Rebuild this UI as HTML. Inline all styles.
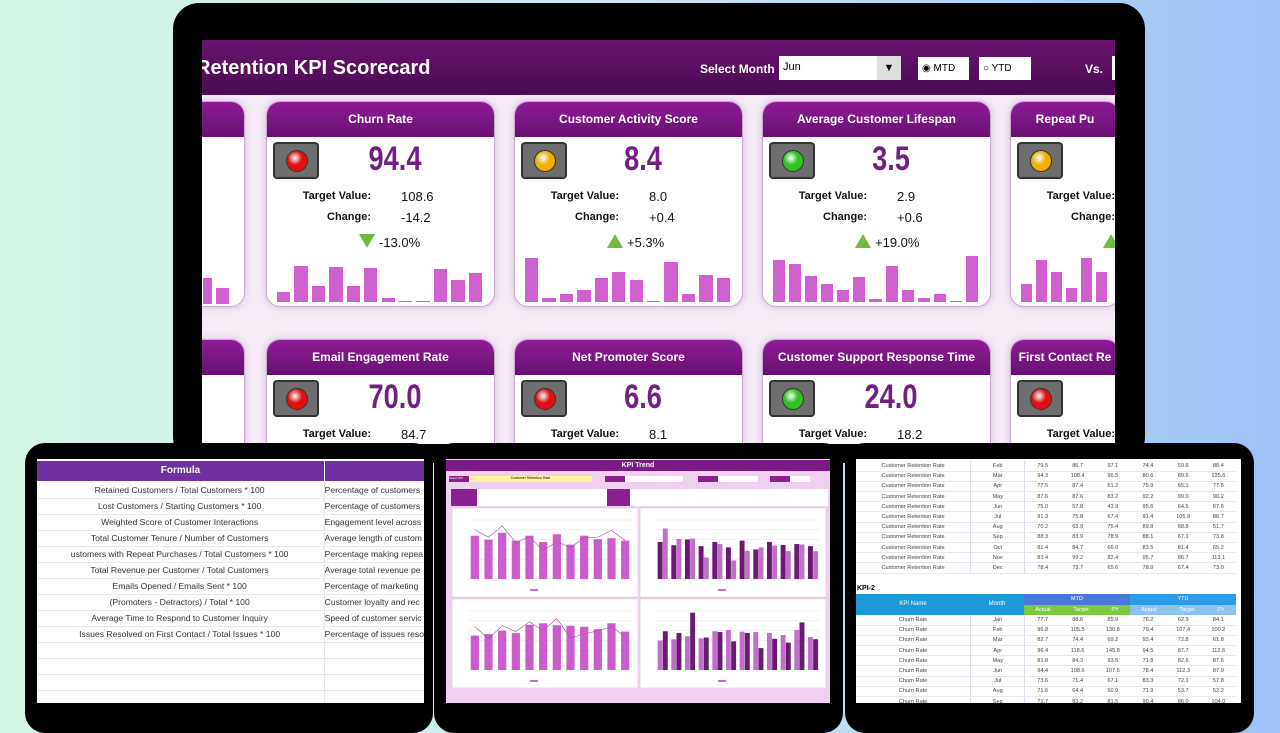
<!DOCTYPE html>
<html><head><meta charset="utf-8">
<style>
*{margin:0;padding:0;box-sizing:border-box}
body{width:1280px;height:720px;overflow:hidden;position:relative;font-family:"Liberation Sans",sans-serif;background:linear-gradient(90deg,#d6f6e6 0%,#c8eaf0 50%,#9cc2f8 100%)}
.a{position:absolute}
.frame{background:#000;border-radius:26px}
.hdr{background:linear-gradient(180deg,#6a1470,#4a0a52);}
.card{position:absolute;background:#fff;border-radius:14px;border:1px solid #c9a8d0;box-shadow:0 0 8px #d8b8e0;overflow:hidden}
.card .t{position:absolute;left:0;right:0;top:0;height:35px;background:linear-gradient(180deg,#8c1c96,#6a1072);color:#fff;font-weight:bold;font-size:12px;text-align:center;line-height:35px;white-space:nowrap;font-family:"Liberation Sans Narrow","Liberation Sans",sans-serif}
.light{position:absolute;width:46px;height:37px;background:#6e6e6e;border:2px solid #333;border-radius:4px}
.light i{position:absolute;left:11px;top:6px;width:22px;height:22px;border-radius:50%;border:1px solid #333}
.big{position:absolute;font-size:34px;font-weight:bold;color:#702080;font-family:"Liberation Sans Narrow","Liberation Sans",sans-serif;transform:scaleX(.8)}
.lab{position:absolute;font-size:11px;font-weight:bold;color:#111;white-space:nowrap;text-align:right}
.val{position:absolute;font-size:13px;color:#111;white-space:nowrap}
.bar{position:absolute;background:#d060d0;bottom:4px}
table{border-collapse:collapse}
.lt td{height:16px;font-size:8.6px;color:#333;border-bottom:1px solid #e6e6e6;white-space:nowrap;overflow:hidden}
.rt td{font-size:5.6px;color:#444;text-align:center;border-bottom:1px solid #e2e8ee;height:10.2px;white-space:nowrap}
</style></head><body>

<!-- main laptop -->
<div class="a frame" style="left:173px;top:3px;width:972px;height:460px"></div>
<div class="a" style="left:202px;top:40px;width:913px;height:404px;background:#f5ecf6;overflow:hidden">
  <div class="a hdr" style="left:0;top:0;width:913px;height:55px"></div>
  <div class="a" style="left:-6px;top:17px;color:#fff;font-size:20px;font-weight:bold">Retention KPI Scorecard</div>
  <div class="a" style="left:498px;top:22px;color:#fff;font-size:12px;font-weight:bold">Select Month</div>
  <div class="a" style="left:577px;top:16px;width:98px;height:24px;background:#fff;font-size:11px;padding:5px 4px">Jun</div>
  <div class="a" style="left:675px;top:16px;width:24px;height:24px;background:#ddd;font-size:11px;text-align:center;line-height:24px">▼</div>
  <div class="a" style="left:716px;top:17px;width:51px;height:23px;background:#fff;font-size:10px;padding:6px 4px">◉ MTD</div>
  <div class="a" style="left:777px;top:17px;width:52px;height:23px;background:#fff;font-size:10px;padding:6px 4px">○ YTD</div>
  <div class="a" style="left:883px;top:22px;color:#fff;font-size:12px;font-weight:bold">Vs.</div>
  <div class="a" style="left:910px;top:16px;width:6px;height:24px;background:#fff"></div>
  <div class="a" style="left:-202px;top:-40px;width:1280px;height:720px" id="cards"></div>
</div>

<!-- left tablet -->
<div class="a frame" style="left:25px;top:443px;width:408px;height:290px;border-radius:20px"></div>
<div class="a" style="left:37px;top:459px;width:387px;height:244px;background:#fff;overflow:hidden">
  <div class="a" style="left:0;top:2px;width:287px;height:20px;background:#7030a0;color:#fff;font-size:10px;font-weight:bold;text-align:center;line-height:20px">Formula</div>
  <div class="a" style="left:287px;top:2px;width:100px;height:20px;background:#7030a0;border-left:1px solid #fff"></div>
  <table class="lt a" style="left:0;top:23px;width:387px">
  <tr><td style="width:287px;text-align:center">Retained Customers / Total Customers * 100</td><td>&nbsp;Percentage of customers</td></tr>
  <tr><td style="text-align:center">Lost Customers / Starting Customers * 100</td><td>&nbsp;Percentage of customers</td></tr>
  <tr><td style="text-align:center">Weighted Score of Customer Interactions</td><td>&nbsp;Engagement level across</td></tr>
  <tr><td style="text-align:center">Total Customer Tenure / Number of Customers</td><td>&nbsp;Average length of custom</td></tr>
  <tr><td style="text-align:center">ustomers with Repeat Purchases / Total Customers * 100</td><td>&nbsp;Percentage making repea</td></tr>
  <tr><td style="text-align:center">Total Revenue per Customer / Total Customers</td><td>&nbsp;Average total revenue pe</td></tr>
  <tr><td style="text-align:center">Emails Opened / Emails Sent * 100</td><td>&nbsp;Percentage of marketing</td></tr>
  <tr><td style="text-align:center">(Promoters - Detractors) / Total * 100</td><td>&nbsp;Customer loyalty and rec</td></tr>
  <tr><td style="text-align:center">Average Time to Respond to Customer Inquiry</td><td>&nbsp;Speed of customer servic</td></tr>
  <tr><td style="text-align:center">Issues Resolved on First Contact / Total Issues * 100</td><td>&nbsp;Percentage of issues reso</td></tr>
  <tr><td></td><td></td></tr><tr><td></td><td></td></tr><tr><td></td><td></td></tr><tr><td></td><td></td></tr>
  </table>
  <div class="a" style="left:287px;top:22px;width:1px;height:222px;background:#e6e6e6"></div>
</div>

<!-- middle tablet -->
<div class="a frame" style="left:434px;top:443px;width:409px;height:290px;border-radius:20px"></div>
<div class="a" style="left:446px;top:459px;width:384px;height:244px;background:#f0d0f0;overflow:hidden">
  <div class="a" style="left:0;top:1px;width:384px;height:11px;background:#7a1a84;color:#fff;font-size:7px;font-weight:bold;text-align:center;line-height:11px">KPI Trend</div>
  <div class="a" style="left:3px;top:17px;width:20px;height:6px;background:#8a2090;color:#fff;font-size:3px">Select KPI</div>
  <div class="a" style="left:23px;top:17px;width:123px;height:6px;background:#fff79a;font-size:3.5px;text-align:center">Customer Retention Rate</div>
  <div class="a" style="left:159px;top:17px;width:20px;height:6px;background:#8a2090"></div>
  <div class="a" style="left:179px;top:17px;width:58px;height:6px;background:#fff"></div>
  <div class="a" style="left:252px;top:17px;width:20px;height:6px;background:#8a2090"></div>
  <div class="a" style="left:272px;top:17px;width:40px;height:6px;background:#fff"></div>
  <div class="a" style="left:324px;top:17px;width:20px;height:6px;background:#8a2090"></div>
  <div class="a" style="left:344px;top:17px;width:20px;height:6px;background:#fff"></div>
  <div class="a" style="left:5px;top:30px;width:156px;height:17px;background:#fff;border-left:26px solid #8a2090"></div>
  <div class="a" style="left:161px;top:30px;width:221px;height:17px;background:#fff;border-left:23px solid #8a2090"></div>
  <svg class="a" style="left:0;top:0" width="384" height="244" id="msvg"></svg>
</div>

<!-- right tablet -->
<div class="a frame" style="left:845px;top:443px;width:409px;height:290px;border-radius:20px"></div>
<div class="a" style="left:856px;top:459px;width:385px;height:244px;background:#fff;overflow:hidden">
  <table class="rt a" style="left:0;top:2px;width:380px" id="rt1"></table>
  <div class="a" style="left:1px;top:126px;font-size:7px;font-weight:bold">KPI-2</div>
  <div class="a" style="left:0;top:135px;width:114px;height:21px;background:#1c9ad8;color:#fff;font-size:6px;text-align:center;line-height:21px">KPI Name</div>
  <div class="a" style="left:114px;top:135px;width:54px;height:21px;background:#1c9ad8;color:#fff;font-size:6px;text-align:center;line-height:21px">Month</div>
  <div class="a" style="left:168px;top:135px;width:106px;height:11px;background:#4a78d8;color:#fff;font-size:5.5px;text-align:center;line-height:11px">MTD</div>
  <div class="a" style="left:274px;top:135px;width:106px;height:11px;background:#2e9ae8;color:#fff;font-size:5.5px;text-align:center;line-height:11px">YTD</div>
  <div class="a" style="left:168px;top:146px;width:106px;height:10px;background:#7cc840;color:#fff;font-size:5.5px;line-height:10px;display:flex;justify-content:space-around"><span>Actual</span><span>Target</span><span>PY</span></div>
  <div class="a" style="left:274px;top:146px;width:106px;height:10px;background:#8cc4ee;color:#fff;font-size:5.5px;line-height:10px;display:flex;justify-content:space-around"><span>Actual</span><span>Target</span><span>PY</span></div>
  <table class="rt a" style="left:0;top:156px;width:380px" id="rt2"></table>
</div>

<script>
var C=document.getElementById('cards');
function card(x,y,w,h,title,col,val,tv,ch,up,pct,bars){
 var s='<div class="card" style="left:'+x+'px;top:'+y+'px;width:'+w+'px;height:'+h+'px"><div class="t">'+title+'</div>';
 if(col){
 s+='<div class="light" style="left:6px;top:40px"><i style="background:radial-gradient(circle at 40% 35%,#fff 0,'+col+' 40%,'+col+' 100%)"></i></div>';
 s+='<div class="big" style="left:90px;top:38px;width:76px;text-align:center">'+val+'</div>';
 s+='<div class="lab" style="left:30px;top:88px;width:74px">Target Value:</div><div class="val" style="left:134px;top:87px">'+tv+'</div>';
 if(ch!==null){s+='<div class="lab" style="left:30px;top:109px;width:74px">Change:</div><div class="val" style="left:134px;top:108px">'+ch+'</div>';
 s+='<div class="a" style="left:92px;top:132px;width:0;height:0;border-left:8px solid transparent;border-right:8px solid transparent;'+(up?'border-bottom:14px solid #70b840':'border-top:14px solid #70b840')+'"></div><div class="val" style="left:112px;top:133px">'+pct+'</div>';}
 if(bars){for(var i=0;i<bars.length;i++){s+='<div class="bar" style="left:'+(10+i*(w-20)/bars.length)+'px;width:'+((w-20)/bars.length-4)+'px;height:'+bars[i]+'px"></div>';}}
 }
 s+='</div>';C.innerHTML+=s;}
card(150,101,95,206,'','','','',null);
card(266,101,229,206,'Churn Rate','#e01010','94.4','108.6','-14.2',false,'-13.0%',[10,36,16,35,16,34,4,1,1,33,22,29]);
card(514,101,229,206,'Customer Activity Score','#f0b000','8.4','8.0','+0.4',true,'+5.3%',[44,4,8,12,24,30,22,1,40,8,27,24]);
card(762,101,229,206,'Average Customer Lifespan','#30c020','3.5','2.9','+0.6',true,'+19.0%',[42,38,26,18,12,25,3,36,12,4,8,1,46]);
card(1010,101,110,206,'Repeat Pu','#f0b000','','','',true,'',[18,42,30,14,44,30]);
card(150,339,95,120,'','','','',null);
card(266,339,229,120,'Email Engagement Rate','#e01010','70.0','84.7',null);
card(514,339,229,120,'Net Promoter Score','#e01010','6.6','8.1',null);
card(762,339,229,120,'Customer Support Response Time','#30c020','24.0','18.2',null);
card(1010,339,110,120,'First Contact Re','#e01010','','',null);
C.innerHTML+='<div class="bar" style="left:203px;top:278px;bottom:auto;width:9px;height:26px"></div><div class="bar" style="left:216px;top:288px;bottom:auto;width:13px;height:16px"></div>';

var svg='';
function panel(x,y,w,h,a,b,line,dark){
 svg+='<rect x="'+x+'" y="'+y+'" width="'+w+'" height="'+h+'" fill="#fff" stroke="#ccc" stroke-width="0.5"/>';
 var px=x+16,pw=w-22,py=y+12,ph=h-30;
 for(var g=0;g<=6;g++){svg+='<line x1="'+px+'" x2="'+(px+pw)+'" y1="'+(py+ph*g/6)+'" y2="'+(py+ph*g/6)+'" stroke="#e4e4e4" stroke-width="0.5"/>';}
 var n=12,sw=pw/n,pts=[];
 for(var i=0;i<n;i++){
  if(b&&!line){var bw=sw*0.36;svg+='<rect x="'+(px+i*sw+sw*0.12)+'" y="'+(py+ph-a[i]*ph/140)+'" width="'+bw+'" height="'+(a[i]*ph/140)+'" fill="'+(dark?'#6a1a70':'#c070c8')+'"/>';svg+='<rect x="'+(px+i*sw+sw*0.5)+'" y="'+(py+ph-b[i]*ph/140)+'" width="'+bw+'" height="'+(b[i]*ph/140)+'" fill="'+(dark?'#c070c8':'#6a1a70')+'"/>';}
  else{svg+='<rect x="'+(px+i*sw+sw*0.2)+'" y="'+(py+ph-a[i]*ph/120)+'" width="'+(sw*0.6)+'" height="'+(a[i]*ph/120)+'" fill="#cc5ccc"/>';pts.push((px+i*sw+sw/2)+','+(py+ph-b[i]*ph/120));}
 }
 if(line)svg+='<polyline points="'+pts.join(' ')+'" fill="none" stroke="#a050a8" stroke-width="0.6"/>';
 svg+='<rect x="'+(x+w/2-15)+'" y="'+(y+h-8)+'" width="8" height="2" fill="#c070c8"/>';
}
panel(6,49,186,89,[88,80,94,78,88,75,91,70,88,81,83,78],[100,85,108,74,86,58,76,64,84,85,99,78],true);
panel(194,49,186,89,[88,80,94,78,88,75,91,70,88,81,83,78],[120,95,96,51,83,44,67,75,79,66,82,66],false,true);
panel(6,140,186,89,[70,73,80,75,92,95,91,90,88,83,95,78],[88,64,90,78,98,80,105,65,73,80,88,68],true);
panel(194,140,186,89,[70,73,80,75,92,95,91,90,88,83,95,78],[92,88,136,77,90,68,88,52,74,65,113,73],false);
document.getElementById('msvg').innerHTML=svg;

var r1=[["Feb","79.5","86.7","97.1","74.4","59.6","88.4"],["Mar","94.3","108.4","96.5","80.6","89.6","135.6"],["Apr","77.5","87.4","51.2","75.9","65.1","77.5"],["May","87.6","87.6","83.2","92.2","99.0","90.2"],["Jun","75.0","57.8","43.9","95.6","64.5","67.6"],["Jul","91.3","75.8","67.4","91.4","105.9","88.7"],["Aug","70.2","63.9","75.4","89.8","68.8","51.7"],["Sep","88.3","83.9","78.9","88.1","67.1","73.8"],["Oct","81.4","84.7","66.0","83.5","81.4","65.2"],["Nov","83.4","99.2","82.4","95.7","86.7","113.1"],["Dec","78.4","73.7","65.6","78.9","67.4","73.0"]];
var r2=[["Jan","77.7","88.6","85.9","76.2","62.9","84.1"],["Feb","96.8","105.5","130.8","79.4","107.4","100.2"],["Mar","82.7","74.4","69.2","93.4","72.8","61.8"],["Apr","96.4","118.6","145.8","94.5","87.7","112.6"],["May","81.8","84.3","93.5","71.8","82.6","87.6"],["Jun","94.4","108.6","107.5","78.4","112.3","87.9"],["Jul","73.6","71.4","67.1","83.3","72.1","57.8"],["Aug","71.6","64.4","50.9","71.9","53.7","52.2"],["Sep","71.7","83.2","81.5","90.4","86.0","104.0"]];
function fill(id,rows,name){var h='';rows.forEach(function(r){h+='<tr><td style="width:114px">'+name+'</td><td style="width:54px;border-left:1px solid #dde;border-right:1px solid #dde">'+r[0]+'</td>';for(var i=1;i<7;i++)h+='<td style="width:35px">'+r[i]+'</td>';h+='</tr>';});document.getElementById(id).innerHTML=h;}
fill('rt1',r1,'Customer Retention Rate');fill('rt2',r2,'Churn Rate');
</script>
</body></html>
